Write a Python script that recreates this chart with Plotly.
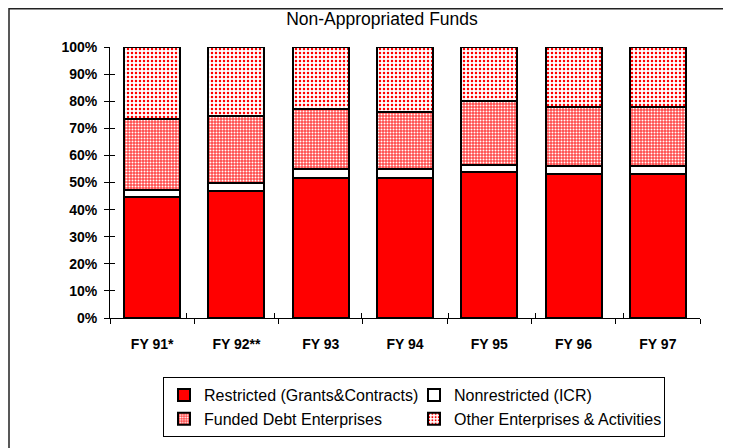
import plotly.graph_objects as go

# share of non-appropriated funds by source, percent
years = ["FY 91*", "FY 92**", "FY 93", "FY 94", "FY 95", "FY 96", "FY 97"]
restricted = [44.5, 46.7, 51.5, 51.5, 53.7, 53.3, 53.3]
nonrestricted = [2.9, 3.3, 3.6, 3.5, 2.9, 2.9, 2.9]
funded_debt = [26.1, 24.4, 22.1, 21.0, 23.3, 21.8, 21.8]
other = [26.5, 25.6, 22.8, 24.0, 20.1, 22.0, 22.0]

fig = go.Figure()

fig.add_trace(go.Bar(x=years, y=restricted, name="Restricted (Grants&Contracts)",
                     marker=dict(color="#FF0000", line=dict(color="black", width=2))))
fig.add_trace(go.Bar(x=years, y=nonrestricted, name="Nonrestricted (ICR)",
                     marker=dict(color="white", line=dict(color="black", width=2))))
fig.add_trace(go.Bar(x=years, y=funded_debt, name="Funded Debt Enterprises",
                     marker=dict(color="#FF4040", line=dict(color="black", width=2),
                                 pattern=dict(shape=".", fgcolor="white", bgcolor="#FF4848",
                                              size=3, solidity=0.35, fillmode="replace"))))
fig.add_trace(go.Bar(x=years, y=other, name="Other Enterprises & Activities",
                     marker=dict(color="#FF0000", line=dict(color="black", width=2),
                                 pattern=dict(shape=".", fgcolor="#FF0000", bgcolor="white",
                                              size=4, solidity=0.3, fillmode="replace"))))

# invisible trace so the overlay axes (inner half of the crossing ticks) get drawn
fig.add_trace(go.Scatter(x=years, y=[None] * len(years), xaxis="x2", yaxis="y2",
                         showlegend=False, hoverinfo="skip"))

font = "Liberation Sans, Arial, sans-serif"

fig.update_layout(
    width=731, height=448,
    margin=dict(l=102, r=39, t=39, b=138),
    barmode="stack",
    bargap=0.335,
    plot_bgcolor="white",
    paper_bgcolor="white",
    font=dict(family=font, color="black"),
    title=dict(text="Non-Appropriated Funds", x=0.461, xref="paper", y=1 - 11 / 448,
               xanchor="center", yanchor="middle", font=dict(size=17.5, family=font)),
    xaxis=dict(showline=True, linecolor="black", linewidth=1, ticks="outside", ticklen=5,
               tickcolor="black", tickson="boundaries", showgrid=False,
               tickfont=dict(size=14, family=font, weight="bold"), ticklabelstandoff=13),
    yaxis=dict(range=[0, 100], dtick=10, ticksuffix="%", showline=True, linecolor="black",
               linewidth=1, ticks="outside", ticklen=5, tickcolor="black", showgrid=False,
               tickfont=dict(size=14, family=font, weight="bold"), ticklabelstandoff=4),
    xaxis2=dict(overlaying="x", anchor="y2", categoryorder="array", categoryarray=years,
                ticks="inside", ticklen=5, tickcolor="black", tickson="boundaries",
                showticklabels=False, showgrid=False, showline=False),
    yaxis2=dict(overlaying="y", anchor="x2", range=[0, 100], dtick=10, ticks="inside",
                ticklen=5, tickcolor="black", showticklabels=False, showgrid=False,
                showline=False),
    legend=dict(orientation="h", x=(155 - 102) / 590, y=(310 - 369) / 271,
                xanchor="left", yanchor="top", entrywidth=205,
                bordercolor="black", borderwidth=1, font=dict(size=16, family=font),
                traceorder="normal", itemwidth=30),
)

# frame round the whole chart
fig.add_shape(type="rect", xref="paper", yref="paper",
              x0=(1 - 102) / 590, x1=(720 - 102) / 590,
              y0=(310 - 470) / 271, y1=(310 - 0.75) / 271,
              line=dict(color="#222222", width=1.5), fillcolor="rgba(0,0,0,0)", layer="below")

fig.write_html("out.html")
